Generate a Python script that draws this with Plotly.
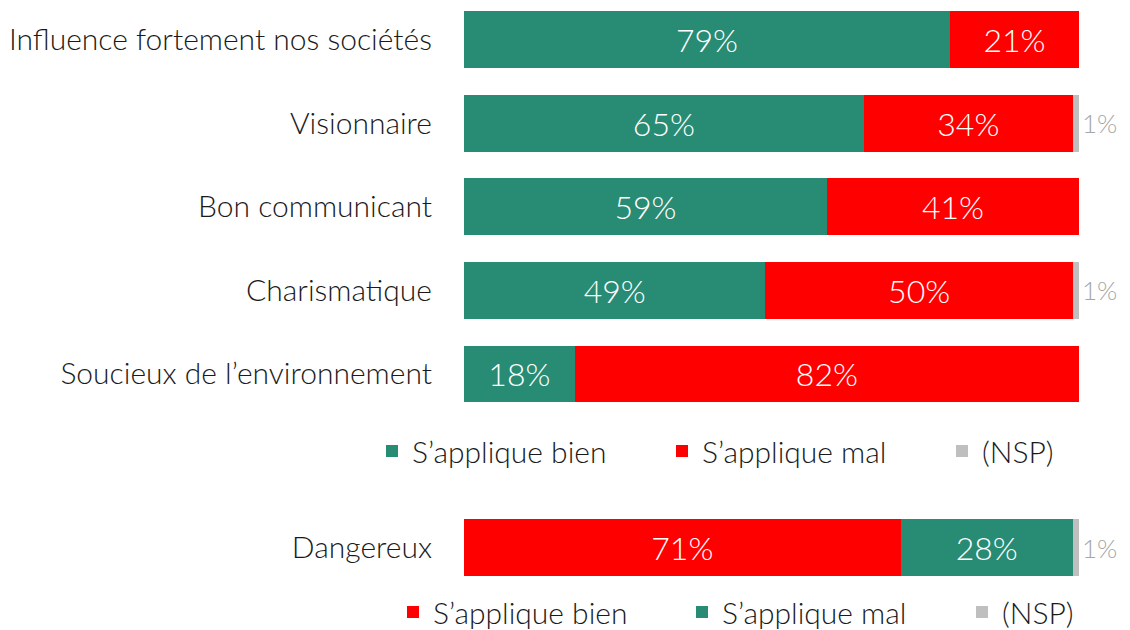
import plotly.graph_objects as go
from plotly.subplots import make_subplots

# top block
categories = ["Influence fortement nos sociétés", "Visionnaire", "Bon communicant",
              "Charismatique", "Soucieux de l’environnement"]
bien = [79, 65, 59, 49, 18]
mal = [21, 34, 41, 50, 82]
nsp = [0, 1, 0, 1, 0]

# bottom block
cat_danger = ["Dangereux"]
danger_bien = [71]
danger_mal = [28]
danger_nsp = [1]

GREEN = "#288B74"
RED = "#FF0000"
GREY = "#BFBFBF"
FONT = "Lato"

# the page body has an 8px margin, so the figure is 8px smaller than the window
OFF = 8
W, H = 1130 - OFF, 630 - OFF


def fx(p):
    return (p - OFF) / W


def fy(p):
    return 1 - (p - OFF) / H


fig = make_subplots(rows=2, cols=1)


def pct(vals):
    return [f"{v}%" if v > 0 else "" for v in vals]


def add_bar(vals, cats, name, color, row, legend, inside=True):
    fig.add_trace(go.Bar(
        y=cats, x=vals, name=name, orientation="h",
        marker=dict(color=color, line=dict(width=0)),
        width=0.68,
        text=pct(vals),
        textposition="inside" if inside else "outside",
        insidetextanchor="middle",
        textfont=dict(family=FONT, size=32 if inside else 26,
                      color="white" if inside else "#A6A6A6", weight=300),
        constraintext="none",
        cliponaxis=False,
        legend=legend,
        showlegend=True,
        hoverinfo="skip",
    ), row=row, col=1)


add_bar(bien, categories, "S’applique bien", GREEN, 1, "legend")
add_bar(mal, categories, "S’applique mal", RED, 1, "legend2")
add_bar(nsp, categories, "(NSP)", GREY, 1, "legend3", inside=False)

add_bar(danger_bien, cat_danger, "S’applique bien", RED, 2, "legend4")
add_bar(danger_mal, cat_danger, "S’applique mal", GREEN, 2, "legend5")
add_bar(danger_nsp, cat_danger, "(NSP)", GREY, 2, "legend6", inside=False)


def legend_at(px_x, px_y):
    return dict(
        x=fx(px_x), y=fy(px_y), xanchor="left", yanchor="middle",
        orientation="h",
        font=dict(family=FONT, size=30, color="#1A1A1A", weight=300),
        itemclick=False, itemdoubleclick=False, bgcolor="rgba(0,0,0,0)",
    )


# one legend per entry so every entry sits where the reference puts it
fig.update_layout(
    showlegend=True,
    legend=legend_at(372, 451), legend2=legend_at(662, 451), legend3=legend_at(942, 451),
    legend4=legend_at(393, 612), legend5=legend_at(682, 612), legend6=legend_at(962, 612),
)

yfont = dict(family=FONT, size=30, color="#1A1A1A", weight=300)
xdom = [fx(464), fx(1079)]

fig.update_layout(
    width=W, height=H,
    margin=dict(l=0, r=0, t=0, b=0, autoexpand=False),
    barmode="stack",
    plot_bgcolor="white", paper_bgcolor="white",
    font=dict(family=FONT, color="#1A1A1A"),
    xaxis=dict(range=[0, 100], visible=False, domain=xdom),
    xaxis2=dict(range=[0, 100], visible=False, domain=xdom),
    yaxis=dict(domain=[fy(424), 1], range=[4.599, -0.3768], automargin=False,
               showgrid=False, zeroline=False, showline=False, ticks="",
               ticklabelstandoff=31, tickfont=yfont),
    yaxis2=dict(domain=[fy(590), fy(505)], range=[-0.5, 0.5], automargin=False,
                showgrid=False, zeroline=False, showline=False, ticks="",
                ticklabelstandoff=31, tickfont=yfont),
)

fig.write_html("out.html")
